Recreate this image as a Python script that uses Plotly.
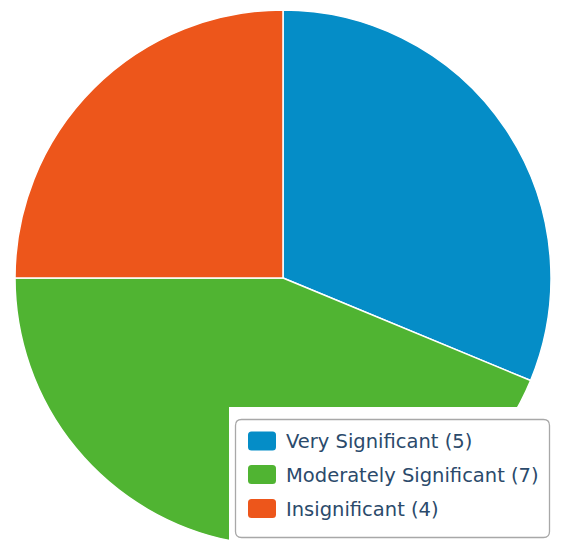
import plotly.graph_objects as go

labels = ["Very Significant", "Moderately Significant", "Insignificant"]
values = [5, 7, 4]
colors = ["#058DC7", "#50B432", "#ED561B"]

# page body adds an 8px offset; figure is sized so that it fills the window
OFF = 8
W, H = 560, 560


def px(x):
    return (x - OFF) / W


def py(y):
    return 1 - (y - OFF) / H


def rrect(x0, y0, x1, y1, r):
    pts = [
        f"M{px(x0 + r)},{py(y0)}",
        f"L{px(x1 - r)},{py(y0)}",
        f"Q{px(x1)},{py(y0)} {px(x1)},{py(y0 + r)}",
        f"L{px(x1)},{py(y1 - r)}",
        f"Q{px(x1)},{py(y1)} {px(x1 - r)},{py(y1)}",
        f"L{px(x0 + r)},{py(y1)}",
        f"Q{px(x0)},{py(y1)} {px(x0)},{py(y1 - r)}",
        f"L{px(x0)},{py(y0 + r)}",
        f"Q{px(x0)},{py(y0)} {px(x0 + r)},{py(y0)}",
        "Z",
    ]
    return " ".join(pts)


cx, cy, r = 283, 278, 268
fig = go.Figure(
    go.Pie(
        labels=labels,
        values=values,
        marker=dict(colors=colors, line=dict(color="white", width=1.5)),
        sort=False,
        direction="clockwise",
        rotation=0,
        textinfo="none",
        hoverinfo="label+value",
        showlegend=False,
        domain=dict(x=[px(cx - r), px(cx + r)], y=[py(cy + r), py(cy - r)]),
    )
)

shapes = [
    dict(type="rect", xref="paper", yref="paper", x0=px(229), x1=1.0, y0=0.0, y1=py(407),
         fillcolor="white", line=dict(width=0), layer="above"),
    dict(type="path", xref="paper", yref="paper", path=rrect(235.5, 419.5, 549.5, 537.5, 6),
         fillcolor="white", line=dict(color="#a8a8a8", width=1.3), layer="above"),
]
annotations = []
row_y = [441, 474.5, 508.5]
for lab, val, col, yc in zip(labels, values, colors, row_y):
    shapes.append(dict(type="path", xref="paper", yref="paper",
                       path=rrect(248, yc - 9.5, 276, yc + 9.5, 3.5),
                       fillcolor=col, line=dict(width=0), layer="above"))
    annotations.append(dict(x=px(284), y=py(yc + 0.5), xref="paper", yref="paper",
                            xanchor="left", yanchor="middle", showarrow=False,
                            text=f"{lab} ({val})",
                            font=dict(family="DejaVu Sans", size=19.5, color="#2b4a6b")))

fig.update_layout(
    width=W, height=H,
    margin=dict(l=0, r=0, t=0, b=0),
    paper_bgcolor="white",
    plot_bgcolor="white",
    shapes=shapes,
    annotations=annotations,
)

fig.write_html("out.html")
